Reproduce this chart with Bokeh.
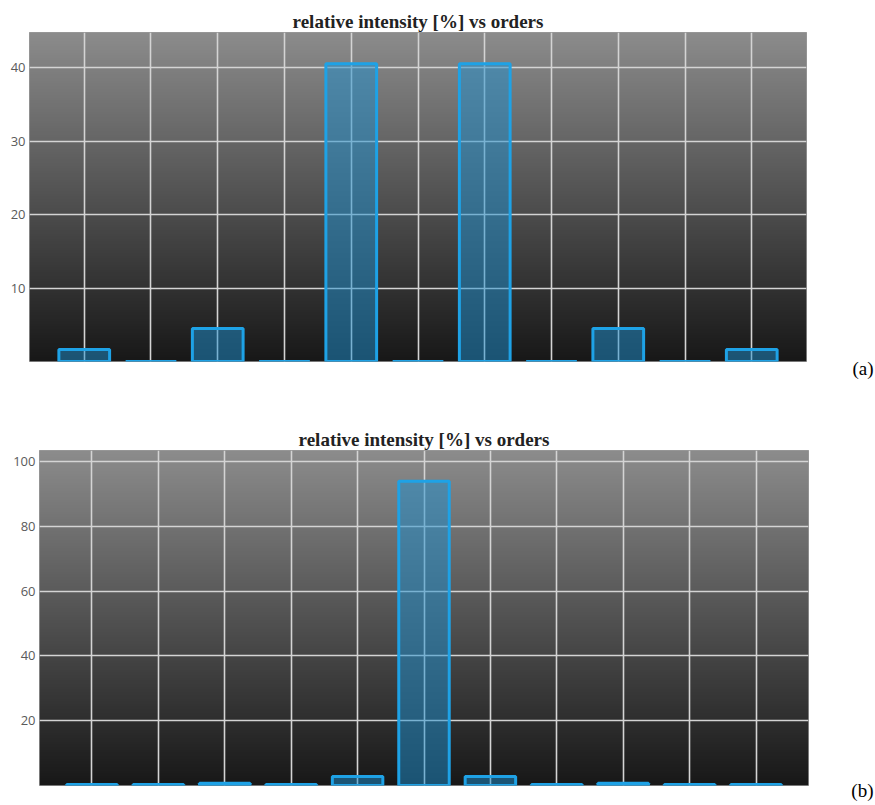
import numpy as np
from bokeh.plotting import figure
from bokeh.models import FixedTicker, Range1d, Title
from bokeh.embed import file_html
from bokeh.resources import INLINE

# diffraction orders and their relative intensities [%]
orders = [-5, -4, -3, -2, -1, 0, 1, 2, 3, 4, 5]
intensity_a = [1.62, 0.0, 4.50, 0.0, 40.53, 0.0, 40.53, 0.0, 4.50, 0.0, 1.62]
intensity_b = [0.3, 0.3, 0.7, 0.3, 2.8, 93.9, 2.8, 0.3, 0.7, 0.3, 0.3]

yticks_a = [10, 20, 30, 40]
yticks_b = [20, 40, 60, 80, 100]

TITLE = "relative intensity [%] vs orders"


def gradient_image(n=256, top=(140, 140, 140), bottom=(24, 24, 24)):
    t = np.linspace(0.0, 1.0, n)[:, None]
    img = np.empty((n, 1), dtype=np.uint32)
    view = img.view(dtype=np.uint8).reshape((n, 1, 4))
    for k in range(3):
        view[:, :, k] = (bottom[k] + (top[k] - bottom[k]) * t).astype(np.uint8)
    view[:, :, 3] = 255
    return img


def make_panel(values, yticks, ymax, xhalf, width, height, borders, tag, tag_offset, tag_standoff):
    left, right, top, bottom = borders
    p = figure(width=width, height=height, output_backend="svg", toolbar_location=None,
               x_range=Range1d(-xhalf, xhalf), y_range=Range1d(0, ymax),
               min_border_left=left, min_border_right=right,
               min_border_top=top, min_border_bottom=bottom,
               title=TITLE)
    p.title.align = "center"
    p.title.text_font = "Liberation Serif"
    p.title.text_font_size = "19px"
    p.title.text_font_style = "bold"
    p.title.text_color = "#222222"
    p.title.standoff = 2

    # dark vertical gradient behind the plot area
    bg = p.image_rgba(image=[gradient_image()], x=-xhalf, y=0, dw=2 * xhalf, dh=ymax)
    bg.level = "image"

    p.vbar(x=orders, top=values, bottom=0, width=0.76,
           fill_color="#1e90d0", fill_alpha=0.5,
           line_color="#1ea2e6", line_width=3)

    p.xaxis.visible = False
    p.xgrid.ticker = FixedTicker(ticks=orders)
    p.yaxis.ticker = FixedTicker(ticks=yticks)
    p.ygrid.ticker = FixedTicker(ticks=yticks)
    for g in (p.xgrid, p.ygrid):
        g.grid_line_color = "#d4d4d4"
        g.grid_line_width = 1.6
    p.yaxis.axis_line_color = None
    p.yaxis.major_tick_line_color = None
    p.yaxis.minor_tick_line_color = None
    p.yaxis.major_tick_out = 0
    p.yaxis.major_label_standoff = 4
    p.yaxis.major_label_text_font = "Open Sans"
    p.yaxis.major_label_text_font_size = "13px"
    p.yaxis.major_label_text_color = "#5a5a5a"

    p.outline_line_color = "#9a9a9a"
    p.outline_line_width = 1
    p.background_fill_color = "#1a1a1a"
    p.border_fill_color = "white"

    # panel tag to the lower right of the plot area
    p.add_layout(Title(text=tag, align="right", offset=tag_offset, standoff=tag_standoff,
                       vertical_align="top",
                       text_font="Liberation Serif", text_font_size="19px",
                       text_font_style="normal", text_color="black"), "below")
    return p


pa = make_panel(intensity_a, yticks_a, 44.8, 5.82, 875, 400,
                (29, 69, 32, 39), "(a)", -67, -8)
pb = make_panel(intensity_b, yticks_b, 103.4, 5.79, 875, 405,
                (39, 67, 50, 20), "(b)", -65, -11)

open("out.html", "w").write(file_html([pa, pb], INLINE))
